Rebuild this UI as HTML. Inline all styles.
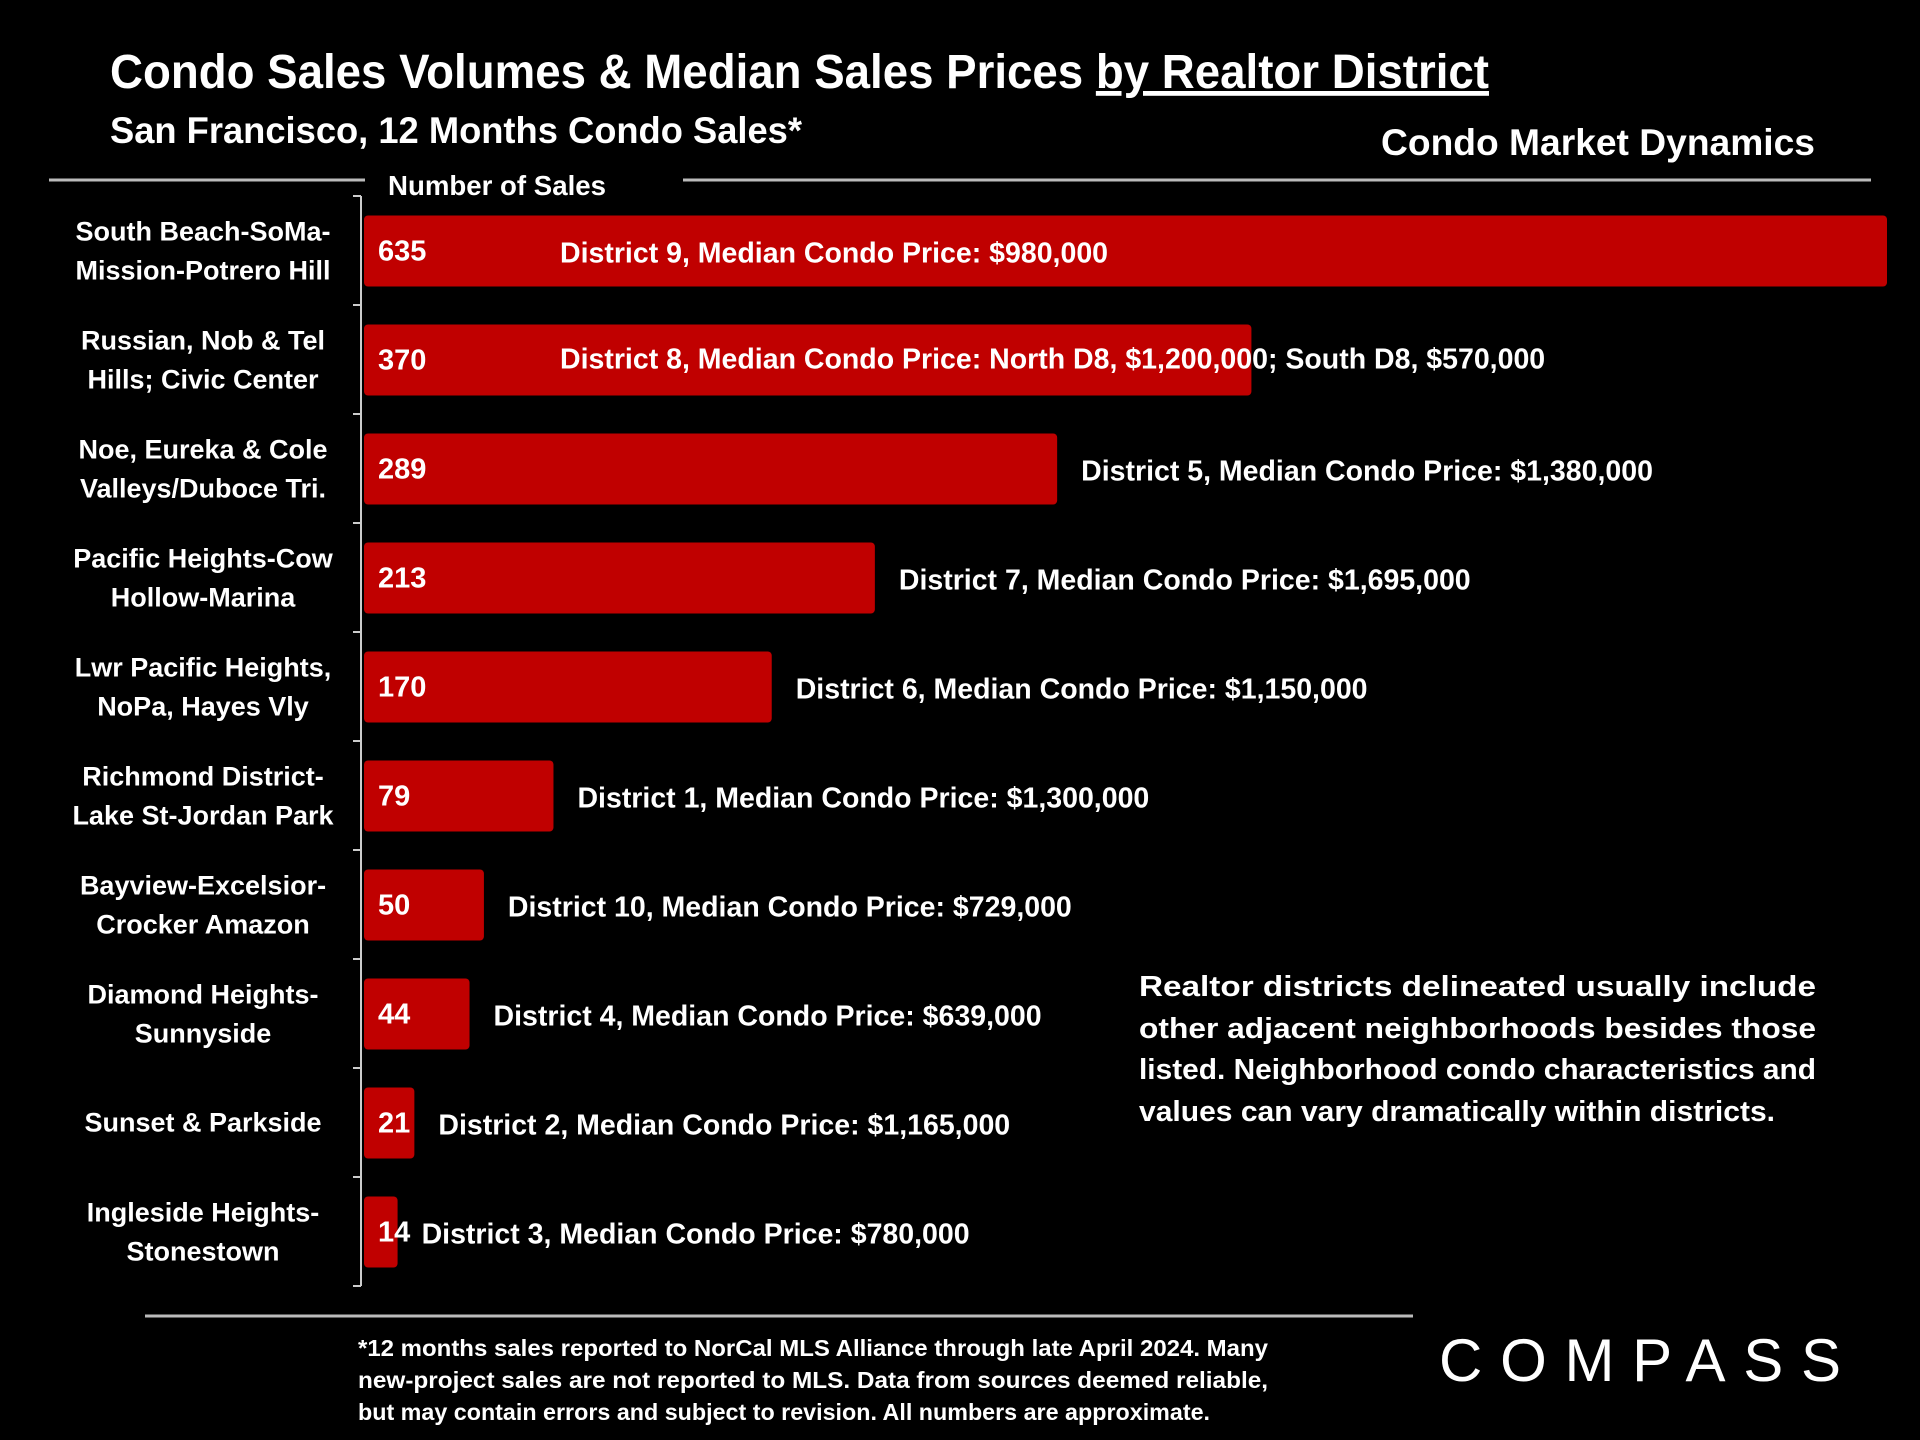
<!DOCTYPE html>
<html><head><meta charset="utf-8"><style>
html,body{margin:0;padding:0;background:#000;}
svg{display:block;font-family:"Liberation Sans Narrow","Liberation Sans",sans-serif;font-weight:bold;}
</style></head><body>
<svg id="chart" width="1920" height="1440" viewBox="0 0 1920 1440">
<rect width="1920" height="1440" fill="#000"/>
<text x="110" y="88" fill="#fff" font-size="48" textLength="1379" lengthAdjust="spacingAndGlyphs">Condo Sales Volumes &amp; Median Sales Prices <tspan text-decoration="underline">by Realtor District</tspan></text>
<text x="110" y="143" fill="#fff" font-size="37" textLength="692" lengthAdjust="spacingAndGlyphs">San Francisco, 12 Months Condo Sales*</text>
<text x="1381" y="155" fill="#fff" font-size="37" textLength="434" lengthAdjust="spacingAndGlyphs">Condo Market Dynamics</text>
<line x1="49" y1="180" x2="365" y2="180" stroke="#bbb" stroke-width="3"/>
<line x1="683" y1="180" x2="1871" y2="180" stroke="#bbb" stroke-width="3"/>
<text x="388" y="195" fill="#fff" font-size="28" textLength="218" lengthAdjust="spacingAndGlyphs">Number of Sales</text>
<g id="bars"></g>
<text x="1139" y="996" fill="#fff" font-size="29" textLength="677" lengthAdjust="spacingAndGlyphs">Realtor districts delineated usually include</text>
<text x="1139" y="1038" fill="#fff" font-size="29" textLength="677" lengthAdjust="spacingAndGlyphs">other adjacent neighborhoods besides those</text>
<text x="1139" y="1079" fill="#fff" font-size="29" textLength="677" lengthAdjust="spacingAndGlyphs">listed. Neighborhood condo characteristics and</text>
<text x="1139" y="1121" fill="#fff" font-size="29" textLength="636" lengthAdjust="spacingAndGlyphs">values can vary dramatically within districts.</text>
<line x1="145" y1="1316" x2="1413" y2="1316" stroke="#bbb" stroke-width="3"/>
<text x="358" y="1356" fill="#fff" font-size="23" textLength="910" lengthAdjust="spacingAndGlyphs">*12 months sales reported to NorCal MLS Alliance through late April 2024. Many</text>
<text x="358" y="1388" fill="#fff" font-size="23" textLength="910" lengthAdjust="spacingAndGlyphs">new-project sales are not reported to MLS. Data from sources deemed reliable,</text>
<text x="358" y="1420" fill="#fff" font-size="23" textLength="852" lengthAdjust="spacingAndGlyphs">but may contain errors and subject to revision. All numbers are approximate.</text>
<text x="1439" y="1381" fill="#fff" font-size="60" font-weight="normal" style="font-family:'Liberation Sans',sans-serif" textLength="402" lengthAdjust="spacing">COMPASS</text>
</svg>
<script>
const categories = [["South Beach-SoMa-","Mission-Potrero Hill"],["Russian, Nob & Tel","Hills; Civic Center"],["Noe, Eureka & Cole","Valleys/Duboce Tri."],["Pacific Heights-Cow","Hollow-Marina"],["Lwr Pacific Heights,","NoPa, Hayes Vly"],["Richmond District-","Lake St-Jordan Park"],["Bayview-Excelsior-","Crocker Amazon"],["Diamond Heights-","Sunnyside"],["Sunset & Parkside"],["Ingleside Heights-","Stonestown"]];
const sales = [635,370,289,213,170,79,50,44,21,14];
const priceLabels = ["District 9, Median Condo Price:  $980,000","District 8, Median Condo Price:  North D8, $1,200,000; South D8, $570,000","District 5, Median Condo Price:  $1,380,000","District 7, Median Condo Price:  $1,695,000","District 6, Median Condo Price:  $1,150,000","District 1, Median Condo Price:  $1,300,000","District 10, Median Condo Price:  $729,000","District 4, Median Condo Price:  $639,000","District 2, Median Condo Price:  $1,165,000","District 3, Median Condo Price:  $780,000"];
const NS="http://www.w3.org/2000/svg";
const g=document.getElementById('bars');
const x0=364, xScale=v=>x0+v*(1887-364)/635;
const top0=196, band=109;
const yBand=i=>top0+i*band;
function mk(t,a){const e=document.createElementNS(NS,t);for(const k in a)e.setAttribute(k,a[k]);g.appendChild(e);return e;}
const ax=mk('line',{x1:361,y1:top0,x2:361,y2:top0+band*categories.length,stroke:'#ccc','stroke-width':2});


for(let i=0;i<=categories.length;i++){
  const t=mk('line',{x1:353,y1:yBand(i),x2:361,y2:yBand(i),stroke:'#ccc','stroke-width':2});
  
  
}
categories.forEach((lines,i)=>{
  const cy=yBand(i)+band/2;
  const bar=mk('rect',{x:x0,y:cy-35,width:xScale(sales[i])-x0,height:71,rx:4,fill:'#c00000'});
  
  
  const v=mk('text',{x:378,y:cy+10,fill:'#fff','font-size':29});
  v.textContent=sales[i];
  
  
  const lx = i<2 ? 560 : xScale(sales[i])+24;
  const p=mk('text',{x:lx,y:cy+(i===1?9:12),fill:'#fff','font-size':28.5});
  p.textContent=priceLabels[i];
  
  
  lines.forEach((ln,j)=>{
    const off=lines.length===1?0:(j===0?-19:20);
    const c=mk('text',{x:203,y:cy+off+9,fill:'#fff','font-size':27,'text-anchor':'middle'});
    c.textContent=ln;
    
    
  });
});
</script>
</body></html>
